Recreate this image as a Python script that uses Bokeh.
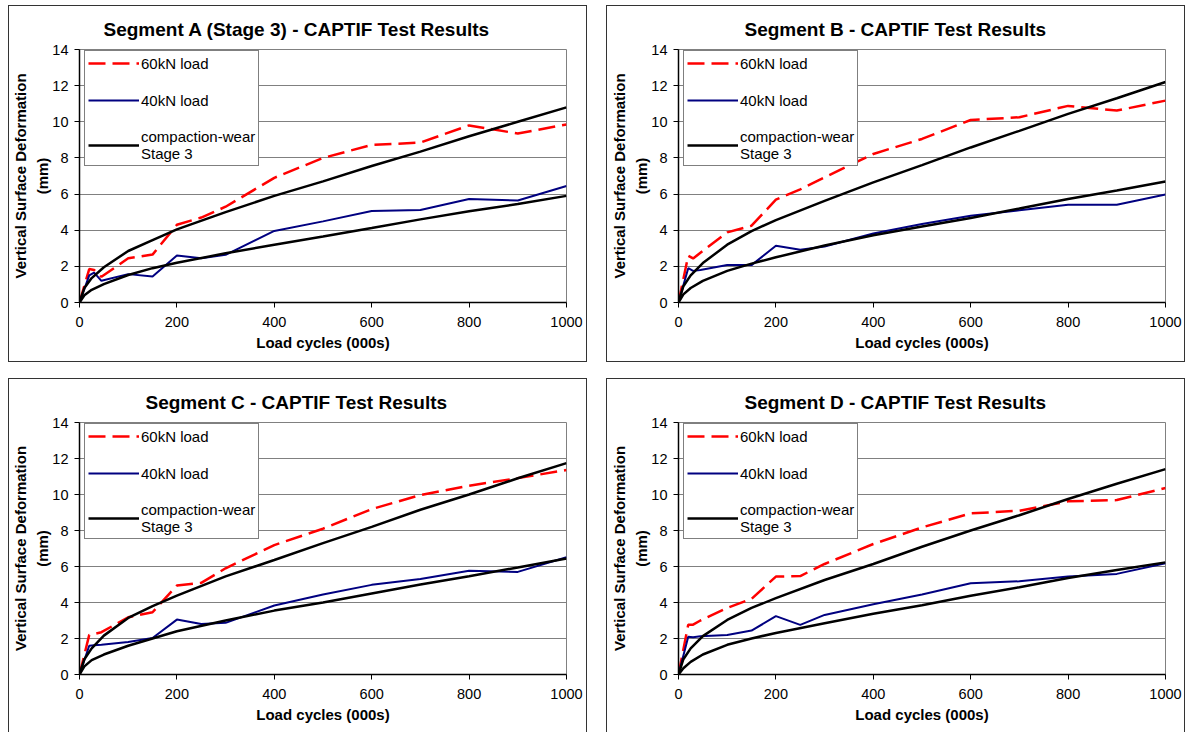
from bokeh.plotting import figure
from bokeh.layouts import column, row
from bokeh.models import Legend, LegendItem, FixedTicker, Range1d
from bokeh.embed import file_html
from bokeh.resources import INLINE

# ---------------- data ----------------
x_ticks = [0, 200, 400, 600, 800, 1000]
y_ticks = [0, 2, 4, 6, 8, 10, 12, 14]

load_cycles = [0, 20, 30, 45, 100, 150, 200, 250, 300, 400, 500, 600, 700, 800, 900, 1000]
trend_cycles = [0, 10, 25, 50, 100, 150, 200, 300, 400, 500, 600, 700, 800, 900, 1000]

titles = [
    "Segment A (Stage 3) - CAPTIF Test Results",
    "Segment B - CAPTIF Test Results",
    "Segment C - CAPTIF Test Results",
    "Segment D - CAPTIF Test Results",
]

seg_a_60kn = [0, 1.85, 1.8, 1.42, 2.45, 2.65, 4.3, 4.7, 5.3, 6.9, 8.0, 8.72, 8.85, 9.8, 9.35, 9.85]
seg_a_40kn = [0, 1.5, 1.65, 1.2, 1.57, 1.44, 2.6, 2.45, 2.64, 3.96, 4.49, 5.06, 5.12, 5.73, 5.64, 6.45]
seg_a_cw_hi = [0, 0.8, 1.35, 1.95, 2.85, 3.45, 4.05, 5.0, 5.9, 6.7, 7.55, 8.35, 9.2, 10.0, 10.8]
seg_a_cw_lo = [0, 0.4, 0.7, 1.02, 1.52, 1.9, 2.2, 2.72, 3.2, 3.65, 4.12, 4.6, 5.05, 5.45, 5.9]

seg_b_60kn = [0, 2.59, 2.44, 2.75, 3.88, 4.25, 5.69, 6.26, 6.93, 8.22, 9.05, 10.1, 10.25, 10.88, 10.62, 11.17]
seg_b_40kn = [0, 1.9, 1.75, 1.8, 2.07, 2.07, 3.14, 2.92, 3.1, 3.82, 4.34, 4.8, 5.1, 5.41, 5.41, 5.98]
seg_b_cw_hi = [0, 0.9, 1.5, 2.18, 3.2, 3.95, 4.56, 5.62, 6.65, 7.6, 8.58, 9.5, 10.44, 11.3, 12.2]
seg_b_cw_lo = [0, 0.45, 0.8, 1.2, 1.75, 2.15, 2.5, 3.15, 3.72, 4.2, 4.68, 5.2, 5.73, 6.2, 6.7]

seg_c_60kn = [0, 2.2, 2.25, 2.35, 3.18, 3.46, 4.94, 5.09, 5.9, 7.19, 8.1, 9.19, 9.97, 10.49, 10.91, 11.36]
seg_c_40kn = [0, 1.6, 1.62, 1.65, 1.8, 2.03, 3.05, 2.81, 2.87, 3.83, 4.44, 4.98, 5.31, 5.77, 5.7, 6.51]
seg_c_cw_hi = [0, 0.85, 1.45, 2.16, 3.14, 3.8, 4.38, 5.45, 6.36, 7.3, 8.2, 9.15, 10.0, 10.9, 11.74]
seg_c_cw_lo = [0, 0.45, 0.8, 1.11, 1.6, 2.0, 2.4, 3.0, 3.55, 4.0, 4.5, 5.0, 5.46, 5.95, 6.45]

seg_d_60kn = [0, 2.77, 2.77, 3.0, 3.7, 4.2, 5.44, 5.47, 6.14, 7.25, 8.17, 8.95, 9.1, 9.62, 9.69, 10.36]
seg_d_40kn = [0, 2.1, 2.07, 2.12, 2.2, 2.44, 3.24, 2.76, 3.31, 3.9, 4.44, 5.07, 5.18, 5.45, 5.59, 6.18]
seg_d_cw_hi = [0, 0.85, 1.45, 2.13, 3.03, 3.7, 4.24, 5.25, 6.14, 7.1, 8.0, 8.85, 9.75, 10.6, 11.41]
seg_d_cw_lo = [0, 0.35, 0.7, 1.11, 1.65, 2.0, 2.31, 2.85, 3.37, 3.85, 4.38, 4.85, 5.36, 5.8, 6.23]

legend_labels = ["60kN load", "40kN load", "compaction-wear\nStage 3"]

FONT = "Liberation Sans"


def make_panel(title, title_offset, s60, s40, cw_hi, cw_lo, left, height, bottom, margin,
               legend_y):
    p = figure(width=577, height=height,
               x_range=Range1d(0, 1000), y_range=Range1d(0, 14),
               output_backend="svg", toolbar_location=None,
               min_border_left=left, min_border_right=577 - left - 487,
               min_border_top=43, min_border_bottom=bottom,
               background_fill_color="white", border_fill_color="white",
               outline_line_color="#808080", outline_line_width=1,
               margin=margin,
               styles={"box-shadow": "0 0 0 1px #333333"})
    p.title.text = title
    p.title.text_font = FONT
    p.title.text_font_size = "19px"
    p.title.text_font_style = "bold"
    p.title.text_color = "black"
    p.title.align = "left"
    p.title.offset = title_offset
    p.title.standoff = 19

    p.xgrid.visible = False
    p.ygrid.grid_line_color = "#808080"
    p.ygrid.grid_line_width = 1

    for ax in (p.xaxis[0], p.yaxis[0]):
        ax.axis_line_color = "black"
        ax.axis_line_width = 1.5
        ax.major_tick_line_color = "black"
        ax.major_tick_line_width = 1
        ax.major_tick_out = 5
        ax.major_tick_in = 0
        ax.minor_tick_line_color = None
        ax.major_label_text_font = FONT
        ax.major_label_text_font_size = "14.5px"
        ax.major_label_text_color = "black"
        ax.axis_label_text_font = FONT
        ax.axis_label_text_font_size = "15px"
        ax.axis_label_text_font_style = "bold"
        ax.axis_label_text_color = "black"

    p.xaxis.ticker = FixedTicker(ticks=x_ticks)
    p.yaxis.ticker = FixedTicker(ticks=y_ticks)
    p.xaxis.axis_label = "Load cycles (000s)"
    p.yaxis.axis_label = "Vertical Surface Deformation\n(mm)"
    p.xaxis.major_label_standoff = 9
    p.yaxis.major_label_standoff = 6
    p.xaxis.axis_label_standoff = 4
    p.yaxis.axis_label_standoff = -2
    p.yaxis.axis_label_text_line_height = 1.3

    r60 = p.line(load_cycles, s60, line_color="#ff0000", line_width=2.5, line_dash="17 7")
    r40 = p.line(load_cycles, s40, line_color="#000080", line_width=2)
    rhi = p.line(trend_cycles, cw_hi, line_color="black", line_width=2.5)
    p.line(trend_cycles, cw_lo, line_color="black", line_width=2.5)

    legend = Legend(items=[
        LegendItem(label=legend_labels[0], renderers=[r60]),
        LegendItem(label=legend_labels[1], renderers=[r40]),
        LegendItem(label=legend_labels[2], renderers=[rhi]),
    ], location=(5, legend_y))
    legend.border_line_color = "black"
    legend.border_line_width = 1
    legend.background_fill_color = "white"
    legend.background_fill_alpha = 1
    legend.label_text_font = FONT
    legend.label_text_font_size = "15px"
    legend.label_text_color = "black"
    legend.glyph_width = 51
    legend.glyph_height = 18
    legend.label_height = 18
    legend.label_standoff = 2
    legend.spacing = 19
    legend.padding = 3
    legend.margin = 0
    p.add_layout(legend)
    return p


pa = make_panel(titles[0], 24, seg_a_60kn, seg_a_40kn, seg_a_cw_hi, seg_a_cw_lo,
                70, 355, 59, (6, 0, 0, 9), 136)
pb = make_panel(titles[1], 66, seg_b_60kn, seg_b_40kn, seg_b_cw_hi, seg_b_cw_lo,
                71, 355, 59, (6, 0, 0, 21), 136)
pc = make_panel(titles[2], 66, seg_c_60kn, seg_c_40kn, seg_c_cw_hi, seg_c_cw_lo,
                70, 353, 58, (18, 0, 0, 9), 135)
pd = make_panel(titles[3], 66, seg_d_60kn, seg_d_40kn, seg_d_cw_hi, seg_d_cw_lo,
                71, 353, 58, (18, 0, 0, 21), 135)

layout = column(row(pa, pb), row(pc, pd))

open("out.html", "w").write(file_html(layout, INLINE))
